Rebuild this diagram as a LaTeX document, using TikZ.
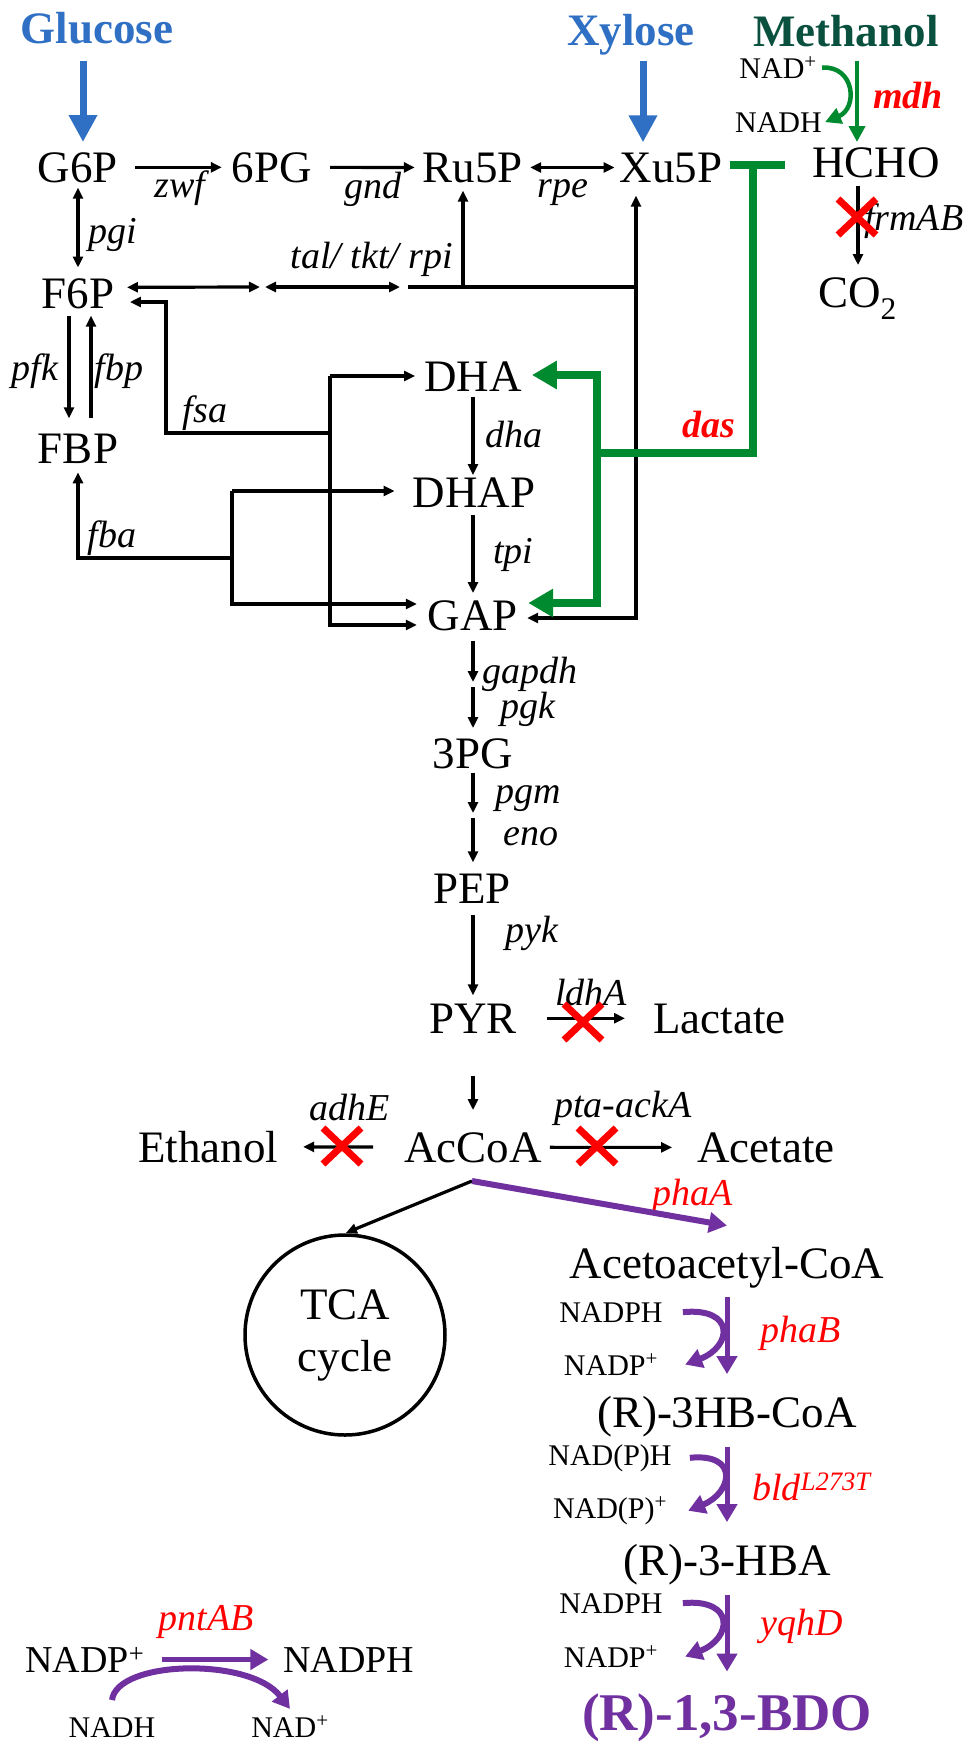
\documentclass[tikz,border=0pt]{standalone}
\usepackage{fontspec}
\setmainfont{Liberation Serif}
\usetikzlibrary{arrows.meta,shapes.misc}
\definecolor{gblue}{RGB}{47,112,196}
\definecolor{mgreen}{RGB}{10,80,62}
\definecolor{agreen}{RGB}{0,138,48}
\definecolor{apurple}{RGB}{112,48,160}
\definecolor{xred}{RGB}{255,0,0}
\tikzset{
 met/.style={font=\fontsize{45}{52}\selectfont, inner sep=0pt, anchor=base},
 lab/.style={font=\fontsize{38}{40}\selectfont\itshape, inner sep=0pt, anchor=base},
 enz/.style={lab, text=xred},
 enzb/.style={font=\fontsize{38}{40}\selectfont\bfseries\itshape, text=xred, inner sep=0pt, anchor=base},
 cof/.style={font=\fontsize{30}{32}\selectfont, inner sep=0pt, anchor=base},
 src/.style={font=\fontsize{45}{52}\selectfont\bfseries, inner sep=0pt, anchor=base},
 ln/.style={line width=3.2pt},
 arr/.style={ln, -{Triangle[length=11pt,width=10pt]}},
 darr/.style={ln, {Triangle[length=11pt,width=10pt]}-{Triangle[length=11pt,width=10pt]}},
 barr/.style={line width=7pt, draw=gblue, -{Triangle[length=27pt,width=27pt]}},
 gline/.style={line width=7.5pt, draw=agreen},
 garr/.style={gline, {Triangle[length=25pt,width=27pt]}-{Triangle[length=25pt,width=27pt]}},
 gthin/.style={line width=4.5pt, draw=agreen, -{Triangle[length=16pt,width=16pt]}},
 parr/.style={line width=6pt, draw=apurple, -{Triangle[length=18pt,width=20pt]}},
 parr2/.style={line width=5pt, draw=apurple, -{Triangle[length=18pt,width=20pt]}},
 pcurve/.style={line width=6pt, draw=apurple, -{Triangle[length=17pt,width=19pt]}},
 knock/.style={cross out, draw=xred, line width=7pt, minimum width=38pt, minimum height=36pt, inner sep=0pt, outer sep=0pt},
}
\begin{document}
\begin{tikzpicture}[x=1pt,y=-1pt]
\useasboundingbox (0,0) rectangle (964,1743);
% ---------- metabolites and labels ----------
\node[src,text=gblue] (glc) at (97,43) {Glucose};
\node[src,text=gblue] (xyl) at (631,45) {Xylose};
\node[src,text=mgreen] (meoh) at (846,46) {Methanol};
\node[met] (g6p) at (78,182) {G6P};
\node[met] (pg6) at (272,182) {6PG};
\node[met] (ru5p) at (473,182) {Ru5P};
\node[met] (xu5p) at (671,182) {Xu5P};
\node[met] (hcho) at (876,177) {HCHO};
\node[met,anchor=base west] (co2) at (818,307) {CO\textsubscript{2}};
\node[cof,anchor=base east] (nadA) at (817,78) {NAD\textsuperscript{+}};
\node[cof,anchor=base east] (nadhA) at (822,132) {NADH};
\node[enzb,anchor=base west] (mdh) at (873,108) {mdh};
\node[lab,anchor=base west] (frm) at (864,230) {frmAB};
\node[lab] (zwf) at (180,197) {zwf};
\node[lab] (gnd) at (373,198) {gnd};
\node[lab] (rpe) at (563,197) {rpe};
\node[lab,anchor=base west] (pgi) at (88,243) {pgi};
\node[met] (f6p) at (78,308) {F6P};
\node[lab] (tkt) at (372,268) {tal/ tkt/ rpi};
\node[lab] (pfk) at (35,380) {pfk};
\node[lab] (fbp) at (119,380) {fbp};
\node[met] (fbpm) at (78,463) {FBP};
\node[lab] (fsa) at (205,422) {fsa};
\node[lab] (fba) at (112,547) {fba};
\node[met] (dha) at (473,391) {DHA};
\node[lab,anchor=base west] (dhaE) at (485,447) {dha};
\node[met] (dhap) at (474,507) {DHAP};
\node[lab,anchor=base west] (tpi) at (493,563) {tpi};
\node[met] (gap) at (473,630) {GAP};
\node[enzb] (das) at (709,437) {das};
\node[lab,anchor=base west] (gapdh) at (482,683) {gapdh};
\node[lab,anchor=base west] (pgk) at (500,718) {pgk};
\node[met] (pg3) at (473,768) {3PG};
\node[lab,anchor=base west] (pgm) at (495,803) {pgm};
\node[lab,anchor=base west] (eno) at (503,845) {eno};
\node[met] (pep) at (472,903) {PEP};
\node[lab,anchor=base west] (pyk) at (505,942) {pyk};
\node[met] (pyr) at (473,1033) {PYR};
\node[lab,anchor=base west] (ldha) at (555,1005) {ldhA};
\node[met,anchor=base west] (lac) at (653,1033) {Lactate};
\node[met] (etoh) at (208,1162) {Ethanol};
\node[met] (accoa) at (473,1162) {AcCoA};
\node[met] (ace) at (766,1162) {Acetate};
\node[lab] (adhe) at (350,1120) {adhE};
\node[lab] (pta) at (623,1117) {pta-ackA};
\node[enz] (phaa) at (693,1205) {phaA};
\node[met] (aca) at (727,1278) {Acetoacetyl-CoA};
\node[draw, circle, line width=3.5pt, minimum size=200pt, inner sep=0pt, align=center,
      font=\fontsize{45}{52}\selectfont] (tca) at (345,1335) {TCA\\cycle};
\node[cof] (nadph1) at (611,1322) {NADPH};
\node[cof] (nadp1) at (611,1375) {NADP\textsuperscript{+}};
\node[enz,anchor=base west] (phab) at (760,1342) {phaB};
\node[met] (hbcoa) at (727,1427) {(R)-3HB-CoA};
\node[cof] (nadph2) at (610,1465) {NAD(P)H};
\node[cof] (nadp2) at (610,1518) {NAD(P)\textsuperscript{+}};
\node[enz,anchor=base west] (bld) at (752,1500) {bld\textsuperscript{L273T}};
\node[met] (hba) at (727,1575) {(R)-3-HBA};
\node[cof] (nadph3) at (611,1613) {NADPH};
\node[cof] (nadp3) at (611,1667) {NADP\textsuperscript{+}};
\node[enz,anchor=base west] (yqhd) at (760,1635) {yqhD};
\node[src,font=\fontsize{53}{58}\selectfont\bfseries,text=apurple] (bdo) at (727,1730) {(R)-1,3-BDO};
\node[met,font=\fontsize{38}{42}\selectfont] (nadpL) at (85,1672) {NADP\textsuperscript{+}};
\node[met,font=\fontsize{38}{42}\selectfont] (nadphL) at (349,1672) {NADPH};
\node[enz] (pnt) at (206,1630) {pntAB};
\node[cof] (nadhL) at (112,1737) {NADH};
\node[cof] (nadL) at (290,1737) {NAD\textsuperscript{+}};
% ---------- coordinates ----------
\coordinate (glcA) at ([xshift=5pt]g6p.north);
\coordinate (xylA) at ([xshift=-28pt]xu5p.north);
\coordinate (t1) at (260,287);
\coordinate (t2) at (265,287);
\coordinate (t3) at (400,287);
\coordinate (t4) at (408,287);
\coordinate (jRu) at (463,287);
\coordinate (jXu) at (636,287);
\coordinate (xuB) at (636,618);
\coordinate (fsa1) at (330,433);
\coordinate (fsa2) at (166,433);
\coordinate (fsa3) at (166,302);
\coordinate (v1t) at (330,376);
\coordinate (v1b) at (330,625);
\coordinate (pfkT) at ([xshift=-9pt]f6p.south);
\coordinate (pfkB) at ([xshift=-9pt]fbpm.north);
\coordinate (fbpT) at ([xshift=13pt]f6p.south);
\coordinate (fbpB) at ([xshift=13pt]fbpm.north);
\coordinate (fba1) at (232,558);
\coordinate (fba2) at (78,558);
\coordinate (v2t) at (232,491);
\coordinate (v2b) at (232,604);
\coordinate (m1) at (473,684.5);
\coordinate (m2) at (473,815.5);
\coordinate (acj) at (472,1181);
\coordinate (tb1) at (730,165);
\coordinate (tb2) at (785,165);
\coordinate (tb3) at (753,165);
\coordinate (tb4) at (753,453);
\coordinate (tb5) at (597,453);
\coordinate (tb6) at (597,375);
\coordinate (tb7) at (597,603);
\coordinate (mA) at ([xshift=11pt]meoh.south);
\coordinate (hA) at ([xshift=-18pt]hcho.south);
% ---------- substrate inputs ----------
\draw[barr, shorten <=17pt, shorten >=10pt] (glcA |- glc.south) -- (glcA);
\draw[barr, shorten <=6pt, shorten >=10pt] (xylA |- xyl.south) -- (xylA);
% ---------- pentose phosphate ----------
\draw[arr, shorten <=17pt, shorten >=10pt] (g6p) -- (pg6);
\draw[arr, shorten <=18pt, shorten >=8pt] (pg6) -- (ru5p);
\draw[darr, shorten <=7pt, shorten >=5pt] (ru5p) -- (xu5p);
\draw[darr, shorten <=5pt, shorten >=10.5pt] (g6p) -- (f6p);
\draw[darr, shorten <=12.5pt] ([yshift=6pt]f6p.east) -- (t1);
\draw[darr] (t2) -- (t3);
\draw[ln] (t4) -- (jXu);
\draw[arr, shorten >=8pt] (jRu) -- (jRu |- ru5p.south);
\draw[darr, shorten <=13pt, shorten >=9pt] (xuB |- xu5p.south) -- (xuB) -- (gap.east |- xuB);
% ---------- upper glycolysis ----------
\draw[arr, shorten >=15.5pt] (fsa1) -- (fsa2) -- (fsa3) -- (f6p.east |- fsa3);
\draw[arr, shorten >=9pt] (v1t) -- (dha.west |- v1t);
\draw[arr, shorten >=11pt] (v1t) -- (v1b) -- (gap.west |- v1b);
\draw[arr, shorten <=7pt, shorten >=15pt] (pfkT) -- (pfkB);
\draw[arr, shorten <=15pt, shorten >=7pt] (fbpB) -- (fbpT);
\draw[arr, shorten >=9pt] (fba1) -- (fba2) -- (fbpm.south);
\draw[arr, shorten >=18pt] (v2t) -- (dhap.west |- v2t);
\draw[arr, shorten >=11pt] (v2t) -- (v2b) -- (gap.west |- v2b);
\draw[arr, shorten <=6pt, shorten >=2pt] (dha.south) -- (dha.south |- dhap.north);
\draw[arr, shorten <=8pt, shorten >=7pt] (dha.south |- dhap.south) -- (dha.south |- gap.north);
% ---------- lower glycolysis ----------
\draw[arr, shorten <=10pt, shorten >=2.5pt] (gap.south) -- (m1);
\draw[arr, shorten <=2.5pt, shorten >=10pt] (m1) -- (pg3.north);
\draw[arr, shorten <=4pt, shorten >=2.5pt] (pg3.south) -- (m2);
\draw[arr, shorten <=2.5pt, shorten >=11pt] (m2) -- (m2 |- pep.north);
\draw[arr, shorten <=12pt, shorten >=8pt] (m2 |- pep.south) -- (m2 |- pyr.north);
\draw[arr, shorten <=30pt, shorten >=28pt] (pyr) -- (pyr -| lac.west);
\draw[arr, shorten <=43pt, shorten >=22pt] (pyr.south) -- (accoa.north);
\draw[arr, shorten <=31pt, shorten >=25pt] (accoa) -- (etoh);
\draw[arr, shorten <=8pt, shorten >=25pt] (accoa) -- (ace);
\draw[arr, shorten >=1pt] (acj) -- (tca.north);
\draw[parr] (acj) -- ([yshift=21pt]aca.north);
% ---------- methanol module ----------
\draw[gthin, shorten <=14pt, shorten >=5pt] (mA) -- (mA |- hcho.north);
\draw[gthin] ([xshift=5pt]nadA.east) .. controls +(33,-2) and +(33,-14) .. ([xshift=3pt]nadhA.east);
\draw[arr, shorten <=8pt, shorten >=12pt] (hA) -- (hA |- co2.north);
\draw[gline] (tb1) -- (tb2);
\draw[gline] (tb3) -- (tb4) -- (tb5);
\draw[garr, shorten <=10pt, shorten >=10pt] (dha.east |- tb6) -- (tb6) -- (tb7) -- (gap.east |- tb7);
% ---------- BDO module ----------
\draw[parr2, shorten <=9pt, shorten >=21.5pt] (aca.south) -- (hbcoa.north);
\draw[parr2, shorten <=10pt, shorten >=21.5pt] (hbcoa.south) -- (hba.north);
\draw[parr2, shorten <=10pt, shorten >=21.5pt] (hba.south) -- (bdo.north);
\draw[pcurve] ([xshift=20pt]nadph1.east) .. controls +(53,-5) and +(47,-18) .. ([xshift=27pt]nadp1.east);
\draw[pcurve] ([xshift=18pt]nadph2.east) .. controls +(50,-5) and +(44,-18) .. ([xshift=21pt]nadp2.east);
\draw[pcurve] ([xshift=20pt]nadph3.east) .. controls +(53,-5) and +(47,-18) .. ([xshift=27pt]nadp3.east);
% ---------- transhydrogenase ----------
\draw[parr2, shorten <=17pt, shorten >=15pt] (nadpL.east |- nadphL.west) -- (nadphL.west);
\draw[pcurve] ([yshift=17pt]nadhL.north) .. controls +(5,-40) and +(-40,-52) .. ([yshift=7pt]nadL.north);
% ---------- knockouts ----------
\node[knock] (x1) at (857,217) {};
\node[knock] (x2) at (583,1022) {};
\node[knock] (x3) at (342,1146) {};
\node[knock] (x4) at (597,1146) {};
\end{tikzpicture}
\end{document}
